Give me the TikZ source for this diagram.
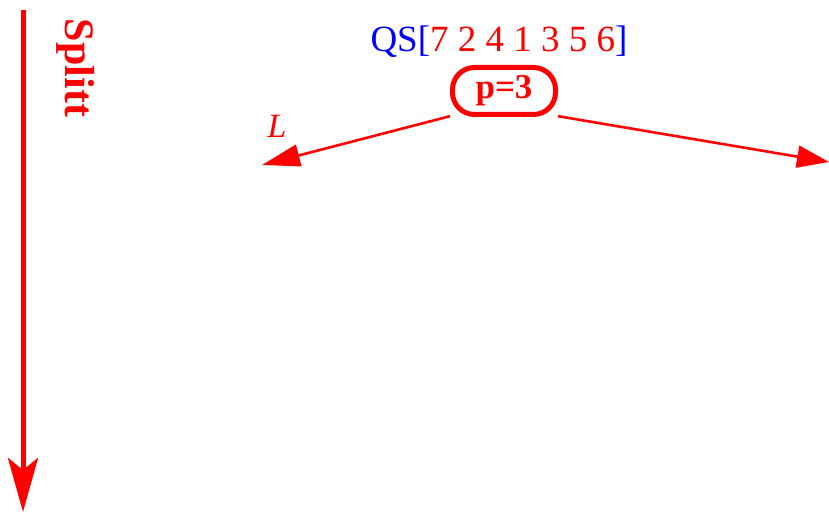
\documentclass[tikz,border=0pt]{standalone}
\usepackage{fontspec}
\setmainfont{Liberation Serif}
\usetikzlibrary{arrows.meta}
\definecolor{myred}{RGB}{255,0,0}
\definecolor{myblue}{RGB}{0,0,255}
\tikzset{
  redline/.style={draw=myred, line width=2.6pt},
  pivotbox/.style={draw=myred, line width=5pt, rounded corners=22pt, minimum width=103pt, minimum height=47pt, inner sep=0pt, text=myred},
}
\begin{document}
\begin{tikzpicture}[x=1pt,y=-1pt]
\useasboundingbox (0,0) rectangle (829,513);
% vertical Splitt arrow
\coordinate (vtop) at (23,10);
\coordinate (vbot) at (23,512);
\draw[draw=myred, line width=5pt, -{Stealth[length=54pt,width=30pt,inset=12pt,fill=myred]}] (vtop) -- (vbot);
\node[text=myred, inner sep=0pt] (split) at (76,68) {\rotatebox{-90}{\fontsize{42}{42}\selectfont\bfseries Splitt}};
% title
\node[inner sep=0pt] (title) at (499,42) {\fontsize{37}{37}\selectfont\textcolor{myblue}{QS[}\textcolor{myred}{7 2 4 1 3 5 6}\textcolor{myblue}{]}};
% pivot
\node[pivotbox] (p) at (504,91) {\raisebox{-3pt}{\fontsize{35}{35}\selectfont\bfseries p=3}};
% arrows
\coordinate (ltip) at (262,165);
\coordinate (rtip) at (829,162);
\draw[redline, -{Triangle[length=38pt,width=22pt]}] (p.205) -- (ltip);
\draw[redline, -{Triangle[length=32pt,width=22pt]}] (p.-25) -- (rtip);
\node[text=myred, inner sep=0pt] (L) at (277,126) {\fontsize{34}{34}\selectfont\itshape L};
\end{tikzpicture}
\end{document}
